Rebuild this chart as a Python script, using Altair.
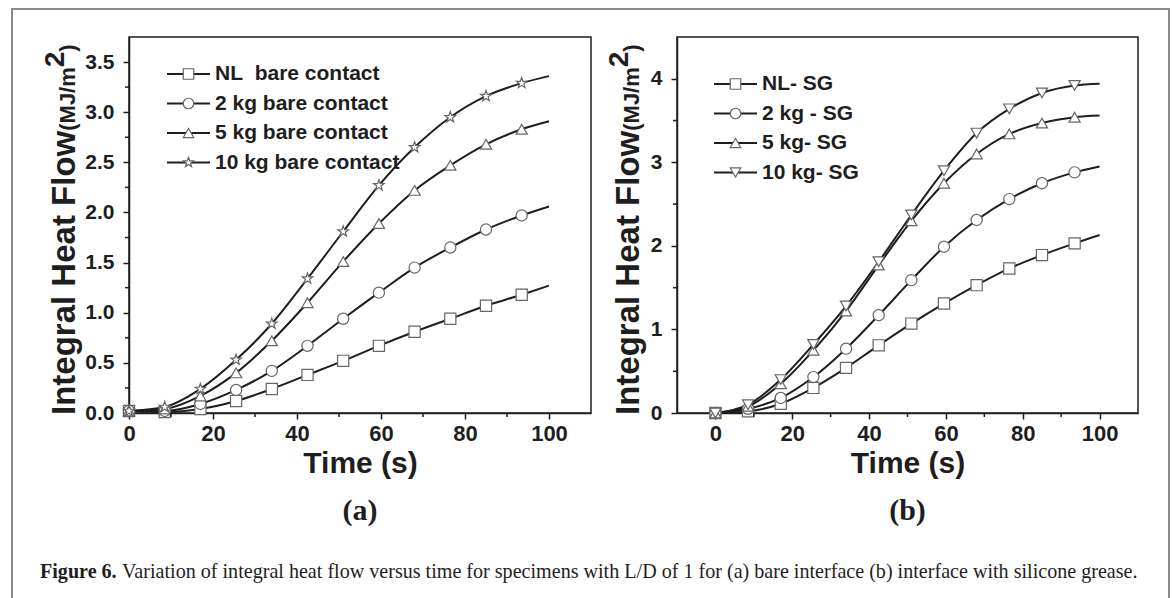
import altair as alt
import pandas as pd

# ---------------- data ----------------
time_s = [0, 8.5, 17, 25.5, 34, 42.5, 51, 59.5, 68, 76.5, 85, 93.5, 100]

a_names = ["NL\u00a0 bare contact", "2 kg bare contact", "5 kg bare contact", "10 kg bare contact"]
a_nl = [0.02, 0.01, 0.04, 0.12, 0.24, 0.38, 0.52, 0.67, 0.81, 0.94, 1.07, 1.18, 1.27]
a_2kg = [0.02, 0.02, 0.09, 0.23, 0.42, 0.67, 0.94, 1.20, 1.45, 1.65, 1.83, 1.97, 2.06]
a_5kg = [0.02, 0.04, 0.17, 0.40, 0.72, 1.10, 1.51, 1.89, 2.22, 2.47, 2.68, 2.83, 2.91]
a_10kg = [0.02, 0.06, 0.24, 0.53, 0.89, 1.34, 1.81, 2.27, 2.65, 2.95, 3.16, 3.29, 3.36]

b_names = ["NL- SG", "2 kg - SG", "5 kg- SG", "10 kg- SG"]
b_nl = [0.0, 0.02, 0.11, 0.30, 0.54, 0.81, 1.07, 1.31, 1.53, 1.73, 1.89, 2.03, 2.13]
b_2kg = [0.0, 0.05, 0.18, 0.43, 0.77, 1.17, 1.59, 1.99, 2.31, 2.56, 2.75, 2.88, 2.95]
b_5kg = [0.0, 0.08, 0.35, 0.75, 1.22, 1.77, 2.30, 2.75, 3.10, 3.34, 3.47, 3.54, 3.56]
b_10kg = [0.0, 0.10, 0.40, 0.82, 1.28, 1.81, 2.37, 2.90, 3.35, 3.64, 3.83, 3.92, 3.94]

x_major = [0, 20, 40, 60, 80, 100]
x_minor = [10, 30, 50, 70, 90]
a_y_major = [0, 0.5, 1.0, 1.5, 2.0, 2.5, 3.0, 3.5]
a_y_minor = [0.25, 0.75, 1.25, 1.75, 2.25, 2.75, 3.25]
b_y_major = [0, 1, 2, 3, 4]
b_y_minor = [0.5, 1.5, 2.5, 3.5]

y_title_big = "Integral Heat Flow"
y_title_unit = "(MJ/m"
y_title_sup = "2"
y_title_close = ")"
x_title = "Time (s)"
caption_bold = "Figure 6."
caption_rest = ("Variation of integral heat flow versus time for specimens with L/D of 1 "
                "for (a) bare interface (b) interface with silicone grease.")

# ---------------- style ----------------
SANS = "Liberation Sans"
SERIF = "Liberation Serif"
INK = "#1e1e1e"
MARK = "#666666"
BORDER = "#8c8c8c"
W_A, W_B, H = 462, 461, 376

STAR = ("M0,-1L0.235,-0.324L0.951,-0.309L0.38,0.124L0.588,0.809L0,0.4L-0.588,0.809"
        "L-0.38,0.124L-0.951,-0.309L-0.235,-0.324Z")

BIG, UNIT, SUP = 33, 22, 28
EM_BIG = 8.613   # Arial-bold advance of "Integral Heat Flow " in em
EM_UNIT = 2.889  # "(MJ/m"
EM_SUP = 0.556   # "2"
CAP = 20.1


def long_df(names, series):
    rows = []
    for name, vals in zip(names, series):
        for t, v in zip(time_s, vals):
            rows.append({"t": t, "v": v, "series": name})
    return pd.DataFrame(rows)


def one():
    return pd.DataFrame({"k": [0]})


def txt(text, x, y, size, angle=0, align="left", baseline="alphabetic", weight="bold", font=SANS):
    return alt.Chart(one()).mark_text(
        text=text, angle=angle, align=align, baseline=baseline, font=font,
        fontSize=size, fontWeight=weight, color=INK
    ).encode(x=alt.value(x), y=alt.value(y))


def rule(**kw):
    return alt.Chart(one()).mark_rule(color=BORDER, strokeWidth=2, strokeCap="square").encode(
        **{k: alt.value(v) for k, v in kw.items()})


def panel(names, series, plot_shapes, xmin, ymax, y_major, y_minor, yfmt,
          width, title_x, legend_x, legend_y, letter, extra):
    df = long_df(names, series)
    xs = alt.Scale(domain=[xmin, 110], nice=False, zero=False)
    ys = alt.Scale(domain=[0, ymax], nice=False, zero=False)
    x_axis = alt.Axis(values=x_major, title=x_title, labelFontSize=22, tickSize=6, labelPadding=4,
                      labelFlush=False, titleFontSize=30, titlePadding=4, titleFont=SANS,
                      titleFontWeight="bold")
    y_axis = alt.Axis(values=y_major, format=yfmt, title=None, labelFontSize=21, tickSize=6,
                      labelPadding=9, labelFlush=False)
    x_enc = alt.X("t:Q", scale=xs, axis=x_axis)
    y_enc = alt.Y("v:Q", scale=ys, axis=y_axis)

    base = alt.Chart(df)
    lines = base.mark_line(color=INK, strokeWidth=2, interpolate="monotone").encode(
        x=x_enc, y=y_enc, detail="series:N")
    pts = base.transform_filter("datum.t < 99").mark_point(
        fill="white", filled=False, stroke=MARK, strokeWidth=1.2, size=125, opacity=1
    ).encode(
        x=x_enc, y=y_enc,
        shape=alt.Shape("series:N", scale=alt.Scale(domain=names, range=plot_shapes), legend=None))

    xm = alt.Chart(pd.DataFrame({"t": x_minor})).mark_rule(color=INK, strokeWidth=1.5).encode(
        x=x_enc, y=alt.value(H), y2=alt.value(H + 4))
    ym = alt.Chart(pd.DataFrame({"v": y_minor})).mark_rule(color=INK, strokeWidth=1.5).encode(
        y=y_enc, x=alt.value(0), x2=alt.value(-4))

    # legend: line + marker + label per series
    legend = []
    for i, (name, shp) in enumerate(zip(names, plot_shapes)):
        yy = legend_y + i * 29.5
        legend.append(alt.Chart(one()).mark_rule(color=INK, strokeWidth=2).encode(
            x=alt.value(legend_x), x2=alt.value(legend_x + 43), y=alt.value(yy)))
        legend.append(alt.Chart(one()).mark_point(
            fill="white", filled=False, stroke=MARK, strokeWidth=1.2, size=110, opacity=1,
            shape=shp).encode(x=alt.value(legend_x + 21.5), y=alt.value(yy)))
        legend.append(txt(name, legend_x + 48, yy, 21, baseline="middle"))

    y0 = H + 2
    y1 = y0 - EM_BIG * BIG
    y2 = y1 - EM_UNIT * UNIT
    y3 = y2 - EM_SUP * SUP
    ytitle = [
        txt(y_title_big, title_x, y0, BIG, angle=270),
        txt(y_title_unit, title_x, y1, UNIT, angle=270),
        txt(y_title_sup, title_x - 11, y2, SUP, angle=270),
        txt(y_title_close, title_x, y3, UNIT, angle=270),
    ]
    lab = txt(letter, width / 2, 483, 30, align="center", font=SERIF)

    layers = [lines, pts, xm, ym] + legend + ytitle + [lab] + extra
    return alt.layer(*layers).properties(width=width, height=H)


left_extra = [
    txt(caption_bold, -89, 541, CAP, font=SERIF),
    txt(caption_rest, -89 + 3.833 * CAP + 0.25 * CAP, 541, CAP, weight="normal", font=SERIF),
    rule(x=-117, x2=1040, y=-28),
    rule(x=-117, y=-28, y2=561),
]
right_extra = [rule(x=W_B + 31, y=-28, y2=561)]

left = panel(a_names, [a_nl, a_2kg, a_5kg, a_10kg],
             ["square", "circle", "triangle-up", STAR],
             0, 3.75, a_y_major, a_y_minor, ".1f", W_A, -54, 38, 37, "(a)", left_extra)
right = panel(b_names, [b_nl, b_2kg, b_5kg, b_10kg],
              ["square", "circle", "triangle-up", "triangle-down"],
              -10, 4.5, b_y_major, b_y_minor, "d", W_B, -38, 37, 47, "(b)", right_extra)

chart = alt.hconcat(left, right, spacing=86, bounds="flush").resolve_scale(
    shape="independent", x="independent", y="independent"
).properties(
    padding={"left": 9, "top": 6, "right": 0, "bottom": 0}, background="white"
).configure_view(
    stroke=INK, strokeWidth=1.5
).configure_axis(
    domainColor=INK, domainWidth=1.5, tickColor=INK, tickWidth=1.5, grid=False,
    labelFont=SANS, labelFontWeight="bold", labelColor=INK, titleColor=INK
)

chart.save("out.html", embed_options={"renderer": "svg", "actions": False})
